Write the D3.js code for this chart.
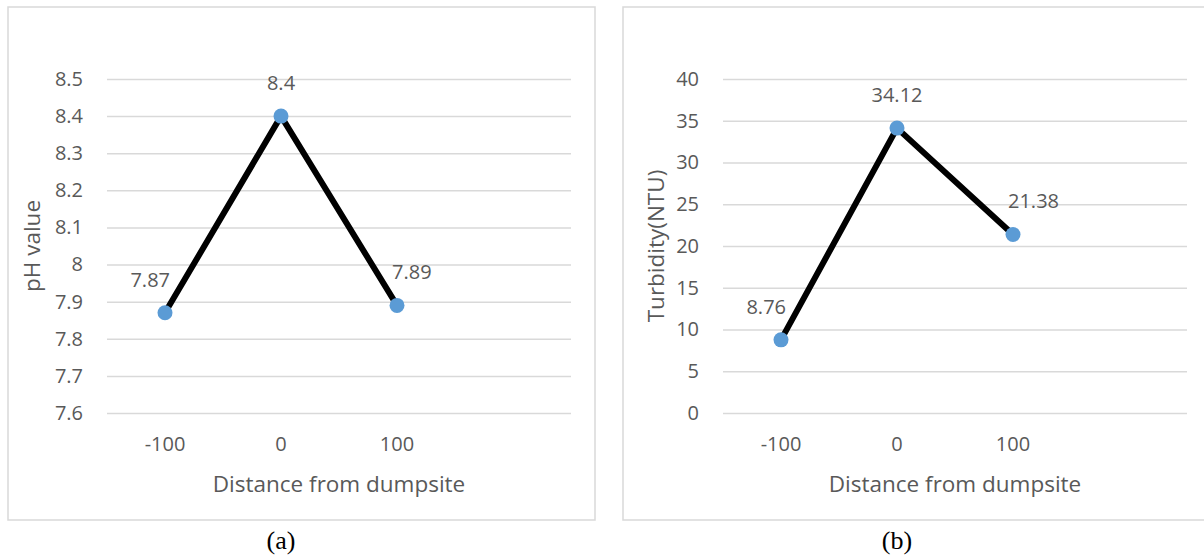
<!DOCTYPE html>
<html>
<head>
<meta charset="utf-8">
<script src="https://cdn.jsdelivr.net/npm/d3@7/dist/d3.min.js"></script>
<style>
  html, body { margin: 0; padding: 0; background: #fff; }
  svg { display: block; }
  .tick text { font-family: "Open Sans", sans-serif; fill: #595959; }
</style>
</head>
<body>
<svg id="chart" width="1204" height="556"></svg>
<script>
// ---- data ----
const categories = ["-100", "0", "100", ""];
const phValues = [7.87, 8.4, 7.89];
const turbidityValues = [8.76, 34.12, 21.38];
const phTicks = [7.6, 7.7, 7.8, 7.9, 8.0, 8.1, 8.2, 8.3, 8.4, 8.5];
const turbidityTicks = [0, 5, 10, 15, 20, 25, 30, 35, 40];
const xTitle = "Distance from dumpsite";
const phTitle = "pH value";
const turbTitle = "Turbidity(NTU)";
const captions = ["(a)", "(b)"];
const labelAnchors = ["end", "middle", "start"];

const svg = d3.select("#chart");
const FONT = "'Open Sans', sans-serif";
const TXT = "#595959";
const GRID = "#d9d9d9";

function panel(cfg) {
  const g = svg.append("g");
  // border
  g.append("rect")
    .attr("x", cfg.box[0]).attr("y", cfg.box[1])
    .attr("width", cfg.box[2] - cfg.box[0]).attr("height", cfg.box[3] - cfg.box[1])
    .attr("fill", "none").attr("stroke", GRID).attr("stroke-width", 1.5);

  const x = d3.scaleBand().domain(categories).range([cfg.plot[0], cfg.plot[1]]);
  const y = d3.scaleLinear().domain(cfg.domain).range([cfg.plot[3], cfg.plot[2]]);

  // y axis with gridlines
  const yAxis = d3.axisLeft(y).tickValues(cfg.ticks)
    .tickSize(-(cfg.plot[1] - cfg.plot[0])).tickPadding(24)
    .tickFormat(cfg.fmt);
  const ya = g.append("g").attr("transform", `translate(${cfg.plot[0]},0)`).call(yAxis);
  ya.select(".domain").remove();
  ya.selectAll(".tick line").attr("stroke", GRID).attr("stroke-width", 1.5);
  ya.selectAll(".tick text").attr("font-size", 20).attr("font-family", FONT).attr("fill", TXT);

  // x axis labels
  const xAxis = d3.axisBottom(x).tickSize(0).tickPadding(24);
  const xa = g.append("g").attr("transform", `translate(0,${cfg.plot[3]})`).call(xAxis);
  xa.select(".domain").remove();
  xa.selectAll(".tick text").attr("font-size", 20).attr("font-family", FONT).attr("fill", TXT);

  // axis titles
  g.append("text").attr("x", (cfg.plot[0] + cfg.plot[1]) / 2).attr("y", 492)
    .attr("text-anchor", "middle").attr("font-family", FONT).attr("font-size", 22.5)
    .attr("fill", TXT).text(xTitle);
  g.append("text")
    .attr("transform", `translate(${cfg.yTitleX},${(cfg.plot[2] + cfg.plot[3]) / 2}) rotate(-90)`)
    .attr("text-anchor", "middle").attr("dominant-baseline", "central")
    .attr("font-family", FONT).attr("font-size", 22.5).attr("fill", TXT).text(cfg.yTitle);

  // line
  const pts = cfg.values.map((v, i) => [x(categories[i]) + x.bandwidth() / 2, y(v)]);
  g.append("path").datum(pts)
    .attr("d", d3.line())
    .attr("fill", "none").attr("stroke", "#000").attr("stroke-width", 6)
    .attr("stroke-linejoin", "round");
  g.selectAll("circle.m").data(pts).join("circle")
    .attr("cx", d => d[0]).attr("cy", d => d[1]).attr("r", 7.5)
    .attr("fill", "#5b9bd5");

  // data labels
  g.selectAll("text.lbl").data(cfg.values).join("text")
    .attr("x", (d, i) => pts[i][0] + (labelAnchors[i] === "end" ? 5 : labelAnchors[i] === "start" ? -5 : 0))
    .attr("y", (d, i) => pts[i][1] - 26)
    .attr("text-anchor", (d, i) => labelAnchors[i])
    .attr("font-family", FONT).attr("font-size", 20).attr("fill", TXT)
    .text(d => d);

  // caption
  svg.append("text").attr("x", x(categories[1]) + x.bandwidth() / 2).attr("y", 549)
    .attr("text-anchor", "middle").attr("font-family", "'Liberation Serif', 'Times New Roman', serif")
    .attr("font-size", 26).attr("fill", "#000").text(cfg.caption);
}

panel({
  box: [8, 7, 595, 520],
  plot: [107, 571, 79, 413],
  domain: [7.6, 8.5],
  ticks: phTicks,
  fmt: d => d3.format("")(+d.toFixed(1)),
  values: phValues,
  yTitle: phTitle,
  yTitleX: 31,
  caption: captions[0]
});

panel({
  box: [623, 7, 1212, 520],
  plot: [723, 1187, 79, 413],
  domain: [0, 40],
  ticks: turbidityTicks,
  fmt: d3.format("d"),
  values: turbidityValues,
  yTitle: turbTitle,
  yTitleX: 655,
  caption: captions[1]
});
</script>
</body>
</html>
